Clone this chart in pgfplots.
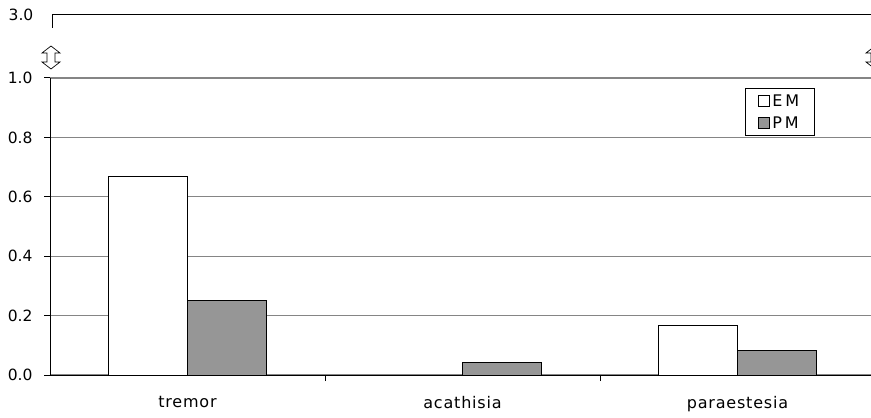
\documentclass[border=0pt]{standalone}
\usepackage{fontspec}
\setmainfont{DejaVu Sans}[LetterSpace=5]
\newfontfamily\numfont{DejaVu Sans}[LetterSpace=0]
\newfontfamily\legfont{DejaVu Sans}[LetterSpace=18]
\usepackage{pgfplots}
\pgfplotsset{compat=1.18}
\definecolor{barg}{HTML}{969696}
\definecolor{gridg}{HTML}{858585}
\pgfplotsset{sqlegend/.style={legend image code/.code={\draw[##1, line width=0.8bp] (0bp,-5.5bp) rectangle (11bp,5.5bp);}}}
\begin{document}
\begin{tikzpicture}[x=1bp,y=1bp]
\path[use as bounding box] (0,0) rectangle (871,417);
\begin{axis}[
  at={(50bp,42bp)}, anchor=south west,
  scale only axis, width=821bp, height=297bp,
  xmin=-0.5, xmax=2.4855, ymin=0, ymax=1,
  axis x line=bottom, axis y line=left,
  axis line style={-, black, line width=1bp},
  font=\fontsize{16bp}{19bp}\selectfont,
  ytick={0,0.2,0.4,0.6,0.8,1.0},
  yticklabel style={font=\numfont\fontsize{15.5bp}{18bp}\selectfont, /pgf/number format/fixed, /pgf/number format/fixed zerofill, /pgf/number format/precision=1, /pgf/number format/assume math mode=true, xshift=-8bp},
  ymajorgrids, major grid style={gridg, line width=1.1bp},
  xtick={0.5,1.5}, xticklabels={},
  extra x ticks={0,1,2}, extra x tick labels={tremor,acathisia,paraestesia},
  extra x tick style={major tick length=0pt, grid=none, xticklabel style={yshift=-18bp}},
  tick align=outside, major tick length=6bp,
  tick style={black, line width=1bp},
  legend style={at={(rel axis cs:0.8465,0.9663)}, anchor=north west, draw=black, line width=1bp, font=\legfont\fontsize{16bp}{19bp}\selectfont, inner xsep=13bp, inner ysep=4bp, row sep=5bp, cells={anchor=west}, nodes={inner xsep=2bp}},
  clip=false,
]
\addplot[ybar, bar width=79bp, bar shift=-39.5bp, fill=white, draw=black, line width=1bp, sqlegend]
  coordinates {(0,0.667) (2,0.167)};
\addplot[ybar, bar width=79bp, bar shift=39.5bp, fill=barg, draw=black, line width=1bp, sqlegend]
  coordinates {(0,0.25) (1,0.042) (2,0.083)};
\legend{EM,PM}
\end{axis}
\draw[black, line width=1bp] (52,402) -- (871,402);
\draw[black, line width=1bp] (52,402.5) -- (52,389);
\node[anchor=east, inner sep=0pt, font=\numfont\fontsize{15.5bp}{18bp}\selectfont] at (33.5,402) {3.0};
\draw[black, line width=0.7bp, fill=white] (51,371) -- (42,364) -- (47,364) -- (47,355) -- (42,355) -- (51,348) -- (60,355) -- (55,355) -- (55,364) -- (60,364) -- cycle;
\draw[black, line width=0.7bp, fill=white] (875,371) -- (866,364) -- (871,364) -- (871,355) -- (866,355) -- (875,348) -- (884,355) -- (879,355) -- (879,364) -- (884,364) -- cycle;
\end{tikzpicture}
\end{document}
